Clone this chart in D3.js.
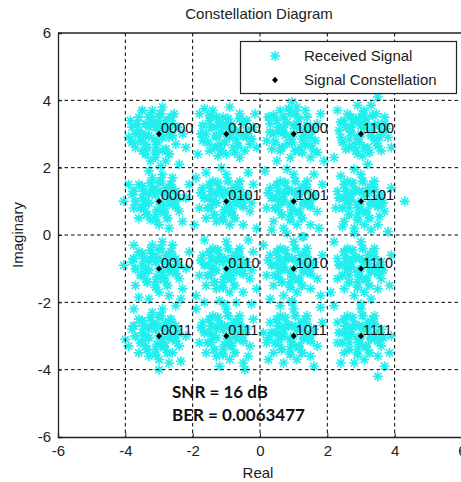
<!DOCTYPE html>
<html><head><meta charset="utf-8">
<script src="https://cdn.jsdelivr.net/npm/d3@7"></script>
<style>body{margin:0;background:#fff;overflow:hidden}svg{display:block}</style>
</head><body>
<svg id="c" width="461" height="482"></svg>
<script>
const ticks = [-6, -4, -2, 0, 2, 4, 6];
const constI = [-3, -1, 1, 3, -3, -1, 1, 3, -3, -1, 1, 3, -3, -1, 1, 3];
const constQ = [3, 3, 3, 3, 1, 1, 1, 1, -1, -1, -1, -1, -3, -3, -3, -3];
const bitLabels = ["0000","0100","1000","1100","0001","0101","1001","1101","0010","0110","1010","1110","0011","0111","1011","1111"];
const snrText = "SNR = 16 dB";
const berText = "BER = 0.0063477";
const received = [
[-3.0,3.1],[-3.3,3.2],[-2.7,2.9],[-3.5,3.0],[-3.1,2.6],[-2.8,3.4],[-3.6,3.5],[-3.2,3.7],[-2.9,3.8],[-3.8,3.2],[-3.9,2.9],[-3.4,2.7],[-2.6,3.3],[-2.5,2.7],[-3.1,2.3],[-2.8,2.2],[-2.4,2.1],[-3.5,2.5],[-3.7,2.6],[-2.3,3.0],[-2.2,2.6],[-3.3,3.5],[-2.9,2.5],[-3.0,3.5],[-3.45,2.95],[-2.75,3.15],[-3.15,2.85],[-3.6,3.1],[-2.55,3.6],[-3.25,2.2],[-2.95,2.05],[-3.85,3.4],
[-1.0,3.0],[-1.3,3.2],[-0.7,3.1],[-1.5,3.4],[-1.2,2.7],[-0.8,2.6],[-0.5,3.3],[-0.4,2.9],[-1.6,3.0],[-1.8,3.6],[-1.4,3.7],[-1.1,3.5],[-0.9,3.8],[-0.6,3.6],[-0.2,3.2],[-0.3,2.7],[-1.7,2.8],[-1.5,2.5],[-1.0,2.4],[-0.6,2.3],[-1.3,2.9],[-0.85,3.3],[-1.15,3.05],[-0.45,2.5],[-1.85,2.4],[-0.15,3.6],[-1.65,3.75],[-0.7,2.85],[-1.25,2.35],[-0.1,2.6],
[1.0,3.0],[0.7,3.2],[1.3,3.1],[0.5,3.4],[0.8,2.7],[1.2,2.6],[0.4,3.0],[0.9,3.6],[1.1,3.8],[0.6,3.7],[1.4,3.5],[0.3,3.3],[0.2,2.8],[0.6,2.5],[1.5,2.9],[1.7,3.3],[1.6,2.5],[1.9,2.2],[1.5,2.3],[0.9,2.3],[1.1,3.3],[0.75,2.95],[1.25,2.85],[0.35,2.55],[0.5,2.2],[0.95,3.95],[1.8,3.6],[1.35,3.7],[0.55,3.05],[1.65,2.8],
[3.0,3.0],[2.7,3.2],[3.3,3.1],[2.5,3.4],[2.8,2.7],[3.2,2.6],[3.5,3.3],[3.4,2.8],[2.4,2.9],[2.6,3.6],[3.1,3.7],[3.5,4.1],[3.7,3.5],[3.8,2.9],[2.3,3.7],[2.2,2.3],[3.2,2.1],[2.9,2.4],[3.6,2.5],[3.9,2.6],[2.35,3.1],[2.85,3.45],[3.15,3.3],[2.65,2.85],[3.45,3.6],[3.05,2.35],[3.75,3.15],[2.55,2.55],[3.3,3.85],[2.9,3.85],
[-3.0,1.0],[-3.3,1.2],[-2.7,0.9],[-3.5,1.1],[-3.1,0.6],[-2.8,1.4],[-3.6,1.5],[-3.2,1.7],[-2.9,1.8],[-3.8,1.2],[-4.05,1.0],[-3.6,0.5],[-2.5,1.3],[-2.4,0.7],[-3.0,0.3],[-2.7,0.2],[-3.4,0.7],[-2.2,1.1],[-2.3,0.4],[-3.3,1.9],[-2.6,1.7],[-3.15,1.35],[-2.85,0.65],[-3.45,0.85],[-2.55,1.0],[-3.75,0.8],[-3.0,1.55],[-2.1,1.5],[-3.25,0.45],[-3.9,1.5],
[-1.0,1.0],[-1.3,1.2],[-0.7,0.9],[-1.5,1.1],[-1.1,0.6],[-0.8,1.4],[-1.4,1.6],[-1.0,1.8],[-0.6,1.6],[-1.7,1.4],[-1.8,0.8],[-1.6,0.5],[-0.4,1.2],[-0.3,0.7],[-0.9,0.3],[-0.5,0.3],[-1.3,0.4],[-0.2,1.5],[-1.9,1.7],[-0.1,0.2],[-0.55,1.05],[-1.2,1.35],[-0.85,0.7],[-1.45,0.8],[-0.35,1.85],[-1.15,2.0],[-0.75,1.2],[-1.6,1.85],[-0.25,0.95],[-1.95,0.3],
[1.0,1.0],[0.7,1.2],[1.3,0.9],[0.5,1.1],[0.9,0.6],[1.2,1.4],[0.6,1.6],[1.0,1.8],[1.4,1.6],[0.3,1.4],[0.2,0.8],[0.4,0.4],[1.6,1.2],[1.7,0.7],[1.1,0.3],[1.5,0.3],[0.7,0.2],[1.3,-0.05],[0.15,1.9],[1.85,1.5],[0.85,1.3],[1.15,0.65],[0.55,0.75],[1.45,1.0],[0.8,1.95],[1.75,0.2],[0.35,0.15],[1.25,1.25],[0.65,0.95],[1.6,1.8],
[3.0,1.0],[2.7,1.2],[3.3,0.9],[2.5,1.1],[2.9,0.6],[3.2,1.4],[2.6,1.6],[3.0,1.8],[3.4,1.6],[2.3,1.3],[2.25,0.8],[2.5,0.4],[3.6,1.2],[3.7,0.7],[3.1,0.3],[3.5,0.3],[2.8,0.2],[3.8,0.1],[4.3,1.0],[3.9,1.4],[2.85,1.3],[3.15,0.65],[2.65,0.8],[3.45,1.05],[2.8,1.95],[3.3,0.15],[2.4,1.75],[3.25,1.25],[2.95,0.85],[3.55,0.55],
[-3.0,-1.0],[-3.3,-0.8],[-2.7,-1.1],[-3.5,-0.9],[-3.1,-1.4],[-2.8,-0.6],[-3.6,-0.5],[-3.2,-0.3],[-2.9,-0.2],[-3.8,-0.8],[-4.05,-0.9],[-3.7,-1.5],[-2.5,-0.7],[-2.4,-1.3],[-3.0,-1.7],[-2.7,-1.8],[-3.4,-1.3],[-2.2,-1.0],[-2.3,-1.6],[-3.3,-1.9],[-2.6,-0.3],[-3.15,-0.65],[-2.85,-1.35],[-3.45,-1.15],[-2.55,-1.0],[-3.75,-0.3],[-3.0,-0.45],[-2.1,-0.5],[-3.6,-1.85],[-2.35,-1.9],
[-1.0,-1.0],[-1.3,-0.8],[-0.7,-1.1],[-1.5,-0.9],[-1.1,-1.4],[-0.8,-0.6],[-1.4,-0.4],[-1.0,-0.2],[-0.6,-0.4],[-1.7,-0.6],[-1.8,-1.2],[-1.6,-1.5],[-0.4,-0.8],[-0.3,-1.3],[-0.9,-1.7],[-0.5,-1.7],[-1.3,-1.6],[-0.2,-0.5],[-1.9,-1.8],[-1.2,-1.95],[-0.55,-0.95],[-1.2,-0.65],[-0.85,-1.3],[-1.45,-1.2],[-0.35,-0.15],[-1.65,-0.15],[-0.75,-0.8],[-0.1,-1.6],[-0.25,-1.05],[-0.7,-2.0],
[1.0,-1.0],[0.7,-0.8],[1.3,-1.1],[0.5,-0.9],[0.9,-1.4],[1.2,-0.6],[0.6,-0.4],[1.0,-0.2],[1.4,-0.4],[0.3,-0.6],[0.2,-1.2],[0.4,-1.5],[1.6,-0.8],[1.7,-1.3],[1.1,-1.7],[1.5,-1.6],[0.7,-1.8],[0.1,-0.3],[1.85,-0.6],[0.3,-1.9],[0.85,-0.7],[1.15,-1.35],[0.55,-1.25],[1.45,-1.0],[0.8,0.05],[1.25,-0.05],[1.8,-1.8],[0.65,-1.05],[1.3,-0.85],[0.95,-1.95],
[3.0,-1.0],[2.7,-0.8],[3.3,-1.1],[2.5,-0.9],[2.9,-1.4],[3.2,-0.6],[2.6,-0.4],[3.0,-0.2],[3.4,-0.4],[2.3,-0.7],[2.3,-1.3],[2.5,-1.6],[3.6,-0.8],[3.6,-1.3],[3.1,-1.7],[3.5,-1.6],[2.8,-1.8],[2.2,-0.2],[3.85,-1.5],[2.1,-1.7],[2.85,-0.7],[3.15,-1.35],[2.65,-1.2],[3.45,-1.0],[2.8,0.05],[3.9,-0.6],[2.45,0.25],[3.25,-0.85],[2.95,-1.05],[3.3,-1.9],
[-3.0,-3.0],[-3.3,-2.8],[-2.7,-3.1],[-3.5,-2.9],[-3.1,-3.4],[-2.8,-2.6],[-3.6,-2.5],[-3.2,-2.3],[-2.9,-2.2],[-3.8,-2.8],[-4.0,-3.1],[-3.6,-3.5],[-2.5,-2.7],[-2.4,-3.3],[-3.0,-3.7],[-2.7,-3.8],[-3.4,-3.3],[-2.2,-3.0],[-2.5,-2.1],[-3.0,-4.0],[-2.6,-3.5],[-3.15,-2.65],[-2.85,-3.35],[-3.45,-3.15],[-2.55,-3.0],[-3.75,-2.2],[-3.0,-2.45],[-2.35,-3.75],[-3.3,-3.6],[-3.9,-3.3],
[-1.0,-3.0],[-1.3,-2.8],[-0.7,-3.1],[-1.5,-2.9],[-1.1,-3.4],[-0.8,-2.6],[-1.4,-2.4],[-1.0,-2.2],[-0.6,-2.4],[-1.7,-2.6],[-1.8,-3.2],[-1.6,-3.5],[-0.4,-2.8],[-0.3,-3.3],[-0.9,-3.7],[-0.5,-3.8],[-1.3,-3.6],[-0.2,-2.5],[-1.9,-2.2],[-1.2,-3.9],[-0.55,-2.95],[-1.2,-2.65],[-0.85,-3.3],[-1.45,-3.2],[-0.35,-3.6],[-1.65,-2.0],[-0.75,-2.8],[-0.45,-4.0],[-0.25,-2.05],[-1.05,-2.05],
[1.0,-3.0],[0.7,-2.8],[1.3,-3.1],[0.5,-2.9],[0.9,-3.4],[1.2,-2.6],[0.6,-2.4],[1.0,-2.2],[1.4,-2.4],[0.3,-2.6],[0.2,-3.2],[0.4,-3.5],[1.6,-2.8],[1.7,-3.3],[1.1,-3.7],[1.5,-3.6],[0.7,-3.8],[0.1,-2.9],[1.85,-2.6],[0.6,-2.1],[0.85,-2.7],[1.15,-3.35],[0.55,-3.25],[1.45,-3.0],[1.6,-3.9],[0.25,-3.7],[1.8,-2.15],[0.65,-3.05],[1.3,-2.85],[0.95,-2.0],
[3.0,-3.0],[2.7,-2.8],[3.3,-3.1],[2.5,-2.9],[2.9,-3.4],[3.2,-2.6],[2.6,-2.4],[3.0,-2.2],[3.4,-2.4],[2.3,-2.6],[2.3,-3.2],[2.5,-3.5],[3.6,-2.8],[3.6,-3.3],[3.1,-3.7],[3.5,-3.6],[2.8,-3.8],[2.2,-2.1],[3.85,-3.5],[3.5,-4.2],[2.85,-2.7],[3.15,-3.35],[2.65,-3.2],[3.45,-3.0],[3.0,-2.05],[3.9,-3.0],[2.4,-3.8],[3.25,-2.85],[2.95,-3.05],[3.7,-3.9]
];
const receivedCore = [
[-3.1,3.2],[-2.9,2.9],[-3.3,2.95],[-2.7,3.05],[-3.2,3.35],[-2.85,3.25],[-3.4,3.3],[-3.05,2.75],[-2.65,3.5],[-3.55,2.8],[-3.25,3.55],[-2.95,3.6],[-3.7,3.0],[-2.6,2.95],[-3.35,2.6],[-2.8,2.55],[-3.05,3.3],[-3.65,3.3],[-3.5,3.7],[-3.1,2.45],[-2.45,3.2],[-3.8,2.75],[-2.7,2.4],[-3.4,2.4],
[-1.1,3.2],[-0.9,2.9],[-1.3,2.95],[-0.7,3.05],[-1.2,3.35],[-0.85,3.15],[-1.45,3.2],[-1.05,2.75],[-0.6,3.45],[-1.55,2.75],[-1.3,3.5],[-0.95,3.45],[-1.7,3.25],[-0.5,2.95],[-1.35,2.6],[-0.75,2.45],[-1.0,3.25],[-0.35,3.1],[-1.5,3.55],[-1.15,2.5],[-0.4,3.4],[-1.75,3.0],[-0.65,2.65],[-0.25,2.85],
[1.1,3.2],[0.9,2.9],[0.7,3.05],[1.3,2.95],[0.8,3.35],[1.15,3.45],[0.55,3.2],[0.95,2.75],[1.4,3.25],[0.45,2.75],[0.7,3.5],[1.05,3.6],[0.3,3.05],[1.5,2.65],[0.65,2.6],[1.25,2.45],[1.0,3.25],[0.4,3.55],[0.85,3.75],[1.35,2.7],[1.7,2.45],[0.25,3.5],[1.05,2.5],[1.55,3.1],
[3.1,3.2],[2.9,2.9],[2.7,3.05],[3.3,2.95],[2.8,3.35],[3.15,3.45],[2.55,3.2],[2.95,2.75],[3.4,3.25],[2.45,2.75],[2.7,3.5],[3.05,3.6],[3.6,3.05],[3.5,2.65],[2.65,2.6],[3.25,2.45],[3.0,3.25],[3.35,3.55],[2.85,2.5],[3.55,2.9],[2.4,3.35],[3.7,3.3],[3.1,2.6],[2.95,3.45],
[-3.1,1.2],[-2.9,0.9],[-3.3,0.95],[-2.7,1.05],[-3.2,1.35],[-2.85,1.25],[-3.45,1.3],[-3.05,0.75],[-2.65,1.5],[-3.55,0.8],[-3.25,1.55],[-2.95,1.6],[-3.7,1.0],[-2.5,0.85],[-3.35,0.6],[-2.75,0.5],[-3.05,1.3],[-2.45,1.1],[-3.5,1.45],[-3.1,0.45],[-2.6,1.35],[-3.75,1.3],[-2.85,0.7],[-3.4,1.0],
[-1.1,1.2],[-0.9,0.9],[-1.3,0.95],[-0.7,1.05],[-1.2,1.35],[-0.85,1.25],[-1.45,1.3],[-1.05,0.75],[-0.65,1.5],[-1.55,0.8],[-1.25,1.55],[-0.95,1.6],[-1.65,1.1],[-0.5,0.85],[-1.35,0.6],[-0.75,0.5],[-1.05,1.3],[-0.45,1.1],[-1.5,1.5],[-1.1,0.45],[-0.6,1.35],[-1.75,1.25],[-0.85,0.65],[-1.4,1.0],
[1.1,1.2],[0.9,0.9],[0.7,1.05],[1.3,0.95],[0.8,1.35],[1.15,1.25],[0.55,1.3],[0.95,0.75],[1.35,1.5],[0.45,0.8],[0.75,1.55],[1.05,1.6],[0.35,1.1],[1.5,0.85],[0.65,0.6],[1.25,0.5],[0.95,1.3],[1.55,1.1],[0.5,1.5],[0.9,0.45],[1.4,1.35],[0.25,1.25],[1.15,0.7],[0.6,1.0],
[3.1,1.2],[2.9,0.9],[2.7,1.05],[3.3,0.95],[2.8,1.35],[3.15,1.25],[2.55,1.3],[2.95,0.75],[3.35,1.5],[2.45,0.8],[2.75,1.55],[3.05,1.6],[2.35,1.1],[3.5,0.85],[2.65,0.6],[3.25,0.5],[2.95,1.3],[3.55,1.1],[2.5,1.5],[2.9,0.45],[3.4,1.35],[3.65,0.95],[3.15,0.7],[2.6,1.0],
[-3.1,-0.8],[-2.9,-1.1],[-3.3,-1.05],[-2.7,-0.95],[-3.2,-0.65],[-2.85,-0.75],[-3.45,-0.7],[-3.05,-1.25],[-2.65,-0.5],[-3.55,-1.2],[-3.25,-0.45],[-2.95,-0.4],[-3.7,-1.0],[-2.5,-1.15],[-3.35,-1.4],[-2.75,-1.5],[-3.05,-0.7],[-2.45,-0.9],[-3.5,-0.55],[-3.1,-1.55],[-2.6,-0.65],[-3.75,-0.7],[-2.85,-1.3],[-3.4,-1.0],
[-1.1,-0.8],[-0.9,-1.1],[-1.3,-1.05],[-0.7,-0.95],[-1.2,-0.65],[-0.85,-0.75],[-1.45,-0.7],[-1.05,-1.25],[-0.65,-0.5],[-1.55,-1.2],[-1.25,-0.45],[-0.95,-0.4],[-1.65,-0.9],[-0.5,-1.15],[-1.35,-1.4],[-0.75,-1.5],[-1.05,-0.7],[-0.45,-0.9],[-1.5,-0.5],[-1.1,-1.55],[-0.6,-0.65],[-1.75,-0.75],[-0.85,-1.3],[-1.4,-1.0],
[1.1,-0.8],[0.9,-1.1],[0.7,-0.95],[1.3,-1.05],[0.8,-0.65],[1.15,-0.75],[0.55,-0.7],[0.95,-1.25],[1.35,-0.5],[0.45,-1.2],[0.75,-0.45],[1.05,-0.4],[0.35,-0.9],[1.5,-1.15],[0.65,-1.4],[1.25,-1.5],[0.95,-0.7],[1.55,-0.9],[0.5,-0.5],[0.9,-1.55],[1.4,-0.65],[0.25,-0.75],[1.15,-1.3],[0.6,-1.0],
[3.1,-0.8],[2.9,-1.1],[2.7,-0.95],[3.3,-1.05],[2.8,-0.65],[3.15,-0.75],[2.55,-0.7],[2.95,-1.25],[3.35,-0.5],[2.45,-1.2],[2.75,-0.45],[3.05,-0.4],[2.35,-0.9],[3.5,-1.15],[2.65,-1.4],[3.25,-1.5],[2.95,-0.7],[3.55,-0.9],[2.5,-0.5],[2.9,-1.55],[3.4,-0.65],[3.65,-1.05],[3.15,-1.3],[2.6,-1.0],
[-3.1,-2.8],[-2.9,-3.1],[-3.3,-3.05],[-2.7,-2.95],[-3.2,-2.65],[-2.85,-2.75],[-3.45,-2.7],[-3.05,-3.25],[-2.65,-2.5],[-3.55,-3.2],[-3.25,-2.45],[-2.95,-2.4],[-3.7,-3.0],[-2.5,-3.15],[-3.35,-3.4],[-2.75,-3.5],[-3.05,-2.7],[-2.45,-2.9],[-3.5,-2.55],[-3.1,-3.55],[-2.6,-2.65],[-3.75,-2.7],[-2.85,-3.3],[-3.4,-3.0],
[-1.1,-2.8],[-0.9,-3.1],[-1.3,-3.05],[-0.7,-2.95],[-1.2,-2.65],[-0.85,-2.75],[-1.45,-2.7],[-1.05,-3.25],[-0.65,-2.5],[-1.55,-3.2],[-1.25,-2.45],[-0.95,-2.4],[-1.65,-2.9],[-0.5,-3.15],[-1.35,-3.4],[-0.75,-3.5],[-1.05,-2.7],[-0.45,-2.9],[-1.5,-2.5],[-1.1,-3.55],[-0.6,-2.65],[-1.75,-2.75],[-0.85,-3.3],[-1.4,-3.0],
[1.1,-2.8],[0.9,-3.1],[0.7,-2.95],[1.3,-3.05],[0.8,-2.65],[1.15,-2.75],[0.55,-2.7],[0.95,-3.25],[1.35,-2.5],[0.45,-3.2],[0.75,-2.45],[1.05,-2.4],[0.35,-2.9],[1.5,-3.15],[0.65,-3.4],[1.25,-3.5],[0.95,-2.7],[1.55,-2.9],[0.5,-2.5],[0.9,-3.55],[1.4,-2.65],[0.25,-3.05],[1.15,-3.3],[0.6,-3.0],
[3.1,-2.8],[2.9,-3.1],[2.7,-2.95],[3.3,-3.05],[2.8,-2.65],[3.15,-2.75],[2.55,-2.7],[2.95,-3.25],[3.35,-2.5],[2.45,-3.2],[2.75,-2.45],[3.05,-2.4],[2.35,-2.9],[3.5,-3.15],[2.65,-3.4],[3.25,-3.5],[2.95,-2.7],[3.55,-2.9],[2.5,-2.5],[2.9,-3.55],[3.4,-2.65],[3.65,-3.05],[3.15,-3.3],[2.6,-3.0]
];

const svg = d3.select("#c");
const x = d3.scaleLinear().domain([-6, 6]).range([58, 462]);
const y = d3.scaleLinear().domain([-6, 6]).range([437, 33]);
const cyan = "#22eeee";
const starPath = "M-5,0L5,0M0,-5L0,5M-3.6,-3.6L3.6,3.6M-3.6,3.6L3.6,-3.6";
const diamondPath = "M0,-3.2L3,0L0,3.2L-3,0Z";
const font = "Arial, 'Liberation Sans', sans-serif";

// received points
svg.append("g").selectAll("path").data(received).join("path")
  .attr("transform", d => `translate(${x(d[0])},${y(d[1])})`)
  .attr("d", starPath).attr("stroke", cyan).attr("stroke-width", 1.6).attr("fill", "none");
svg.append("g").selectAll("path").data(receivedCore).join("path")
  .attr("transform", d => `translate(${x(d[0])},${y(d[1])})`)
  .attr("d", starPath).attr("stroke", cyan).attr("stroke-width", 2).attr("fill", "none");

// constellation points
const cons = constI.map((v, i) => ({i: v, q: constQ[i], label: bitLabels[i]}));
svg.append("g").selectAll("path").data(cons).join("path")
  .attr("transform", d => `translate(${x(d.i)},${y(d.q)})`)
  .attr("d", diamondPath).attr("fill", "#000");
svg.append("g").selectAll("text").data(cons).join("text")
  .attr("x", d => x(d.i) + 2).attr("y", d => y(d.q) - 1)
  .attr("font-family", font).attr("font-size", 14.5).attr("fill", "#111")
  .text(d => d.label);

// annotation
svg.append("text").attr("x", 172).attr("y", 398)
  .attr("font-family", "Lato, 'Open Sans', sans-serif").attr("font-weight", "bold").attr("font-size", 17)
  .attr("fill", "#111").text(snrText);
svg.append("text").attr("x", 172).attr("y", 421)
  .attr("font-family", "Lato, 'Open Sans', sans-serif").attr("font-weight", "bold").attr("font-size", 17)
  .attr("fill", "#111").text(berText);

// grid on top
const gridVals = ticks.filter(t => t > -6 && t < 6);
const grid = svg.append("g").attr("stroke", "#000").attr("stroke-width", 1).attr("stroke-dasharray", "3.5,3");
grid.selectAll("line.v").data(gridVals).join("line").attr("class","v")
  .attr("x1", d => x(d)).attr("x2", d => x(d)).attr("y1", y(6)).attr("y2", y(-6));
grid.selectAll("line.h").data(gridVals).join("line").attr("class","h")
  .attr("y1", d => y(d)).attr("y2", d => y(d)).attr("x1", x(-6)).attr("x2", x(6));

// axes
const fmt = d => String(d);
const xAxis = d3.axisBottom(x).tickValues(ticks).tickSize(-4).tickPadding(8).tickFormat(fmt);
const yAxis = d3.axisLeft(y).tickValues(ticks).tickSize(-4).tickPadding(7).tickFormat(fmt);
const gx = svg.append("g").attr("transform", `translate(0,${y(-6)})`).call(xAxis);
const gy = svg.append("g").attr("transform", `translate(${x(-6)},0)`).call(yAxis);
[gx, gy].forEach(g => {
  g.selectAll("text").attr("font-family", font).attr("font-size", 15).attr("fill", "#222");
  g.select(".domain").attr("stroke", "#222").attr("stroke-width", 1.3);
  g.selectAll(".tick line").attr("stroke", "#222");
});
gx.selectAll("text").attr("dy", "0.71em");
svg.append("line").attr("x1", x(-6)).attr("x2", x(6)).attr("y1", y(6)).attr("y2", y(6)).attr("stroke", "#222").attr("stroke-width", 1.3);
svg.append("line").attr("x1", x(6)).attr("x2", x(6)).attr("y1", y(6)).attr("y2", y(-6)).attr("stroke", "#222").attr("stroke-width", 1.3);

// titles
svg.append("text").attr("x", 259).attr("y", 19).attr("text-anchor", "middle")
  .attr("font-family", font).attr("font-size", 15).attr("fill", "#222").text("Constellation Diagram");
svg.append("text").attr("x", 258).attr("y", 478).attr("text-anchor", "middle")
  .attr("font-family", font).attr("font-size", 15).attr("fill", "#222").text("Real");
svg.append("text").attr("transform", "translate(23,235) rotate(-90)").attr("text-anchor", "middle")
  .attr("font-family", font).attr("font-size", 15).attr("fill", "#222").text("Imaginary");

// legend
const lg = svg.append("g");
lg.append("rect").attr("x", 240.5).attr("y", 41.5).attr("width", 216).attr("height", 52)
  .attr("fill", "#fff").attr("stroke", "#222").attr("stroke-width", 1.2);
lg.append("path").attr("transform", "translate(275,56)").attr("d", starPath)
  .attr("stroke", cyan).attr("stroke-width", 1.6).attr("fill", "none");
lg.append("path").attr("transform", "translate(275,80)").attr("d", diamondPath).attr("fill", "#000");
lg.append("text").attr("x", 304).attr("y", 61).attr("font-family", font).attr("font-size", 15).attr("fill", "#222").text("Received Signal");
lg.append("text").attr("x", 304).attr("y", 85).attr("font-family", font).attr("font-size", 15).attr("fill", "#222").text("Signal Constellation");
</script>
</body></html>
